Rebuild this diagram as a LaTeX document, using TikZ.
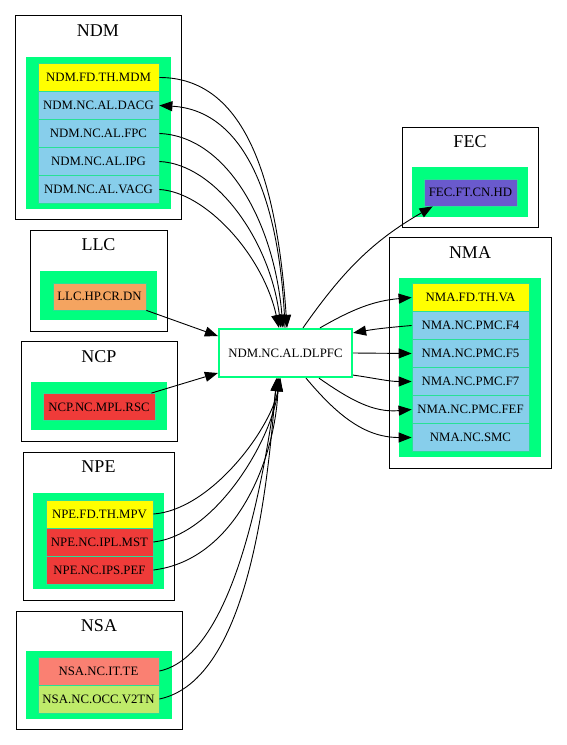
\documentclass[tikz,border=0pt]{standalone}
\usepackage{fontspec}
\setmainfont{Liberation Serif}
\usetikzlibrary{arrows.meta}
\definecolor{sgreen}{HTML}{00FF7F}
\definecolor{nborder}{RGB}{40,225,150}
\definecolor{skyb}{HTML}{87CEEB}
\definecolor{yel}{HTML}{FFFF00}
\definecolor{sandy}{HTML}{F4A460}
\definecolor{redc}{HTML}{EF3B39}
\definecolor{salm}{HTML}{FA8072}
\definecolor{olive}{HTML}{BFEB6A}
\definecolor{slate}{HTML}{6A5ACD}
\tikzset{
 clu/.style={draw=black, line width=0.9pt, fill=white},
 grn/.style={fill=sgreen, draw=none},
 item/.style={draw=nborder, line width=0.8pt, minimum height=28pt, inner sep=0pt, font=\fontsize{12.8}{14}\selectfont},
 ttl/.style={font=\fontsize{18}{20}\selectfont, inner sep=0pt},
 arr/.style={draw, line width=0.9pt, -{Triangle[length=13pt,width=10pt]}},
}
\begin{document}
\begin{tikzpicture}[x=1pt,y=1pt]
\useasboundingbox (0,0) rectangle (567,-745);
% clusters
\draw[clu] (15,-15) rectangle (181,-219);
\fill[grn] (26,-57) rectangle (171,-209);
\node[ttl] (tndm) at (98,-31) {NDM};
\draw[clu] (30,-230) rectangle (167,-331);
\fill[grn] (40,-271) rectangle (157,-320);
\node[ttl] (tllc) at (98.5,-245) {LLC};
\draw[clu] (21,-341) rectangle (177,-441);
\fill[grn] (31,-382) rectangle (167,-430);
\node[ttl] (tncp) at (99,-357) {NCP};
\draw[clu] (23,-452) rectangle (174,-600);
\fill[grn] (33,-493) rectangle (164,-589);
\node[ttl] (tnpe) at (98.5,-467) {NPE};
\draw[clu] (16,-611) rectangle (182,-729);
\fill[grn] (26,-651) rectangle (172,-719);
\node[ttl] (tnsa) at (99,-626) {NSA};
\draw[clu] (402,-127) rectangle (538,-227);
\fill[grn] (412,-167) rectangle (528,-217);
\node[ttl] (tfec) at (470,-142) {FEC};
\draw[clu] (389,-237) rectangle (551,-468);
\fill[grn] (399,-278) rectangle (541,-457);
\node[ttl] (tnma) at (470,-253) {NMA};
% NDM nodes
\node[item, fill=yel, minimum width=121pt] (mdm) at (98.5,-77.5) {NDM.FD.TH.MDM};
\node[item, fill=skyb, minimum width=121pt] (dacg) at (98.5,-105.5) {NDM.NC.AL.DACG};
\node[item, fill=skyb, minimum width=121pt] (fpc) at (98.5,-133.5) {NDM.NC.AL.FPC};
\node[item, fill=skyb, minimum width=121pt] (ipg) at (98.5,-161.5) {NDM.NC.AL.IPG};
\node[item, fill=skyb, minimum width=121pt] (vacg) at (98.5,-189.5) {NDM.NC.AL.VACG};
% LLC, NCP
\node[item, fill=sandy, minimum width=93pt, minimum height=27pt] (llc) at (99.5,-296.5) {LLC.HP.CR.DN};
\node[item, fill=redc, minimum width=112pt, minimum height=27pt] (ncp) at (99,-407) {NCP.NC.MPL.RSC};
% NPE
\node[item, fill=yel, minimum width=107pt] (mpv) at (99.5,-514) {NPE.FD.TH.MPV};
\node[item, fill=redc, minimum width=107pt] (mst) at (99.5,-542) {NPE.NC.IPL.MST};
\node[item, fill=redc, minimum width=107pt] (pef) at (99.5,-570) {NPE.NC.IPS.PEF};
% NSA
\node[item, fill=salm, minimum width=121pt] (te) at (98.5,-671) {NSA.NC.IT.TE};
\node[item, fill=olive, minimum width=121pt] (v2tn) at (98.5,-699) {NSA.NC.OCC.V2TN};
% FEC
\node[item, fill=slate, minimum width=93pt, minimum height=27pt] (fec) at (470.5,-192.5) {FEC.FT.CN.HD};
% NMA
\node[item, fill=yel, minimum width=117pt] (va) at (470.5,-297.5) {NMA.FD.TH.VA};
\node[item, fill=skyb, minimum width=117pt] (f4) at (470.5,-325.5) {NMA.NC.PMC.F4};
\node[item, fill=skyb, minimum width=117pt] (f5) at (470.5,-353.5) {NMA.NC.PMC.F5};
\node[item, fill=skyb, minimum width=117pt] (f7) at (470.5,-381.5) {NMA.NC.PMC.F7};
\node[item, fill=skyb, minimum width=117pt] (fef) at (470.5,-409.5) {NMA.NC.PMC.FEF};
\node[item, fill=skyb, minimum width=117pt] (smc) at (470.5,-437.5) {NMA.NC.SMC};
% centre
\node[draw=sgreen, line width=2.2pt, fill=white, minimum width=133pt, minimum height=48pt, inner sep=0pt, font=\fontsize{12.8}{14}\selectfont] (ctr) at (285.5,-353) {NDM.NC.AL.DLPFC};
% edges NDM
\draw[arr] (mdm.east) .. controls +(86,0) and +(-10,148) .. ([xshift=1.5pt]ctr.north);
\draw[arr] ([xshift=-0.5pt]ctr.north) .. controls +(-5,138) and +(81,-4.5) .. (dacg.east);
\draw[arr] (fpc.east) .. controls +(66,-2.5) and +(-9,108) .. ([xshift=-2.5pt]ctr.north);
\draw[arr] (ipg.east) .. controls +(56,-2.5) and +(-11,88) .. ([xshift=-4.5pt]ctr.north);
\draw[arr] (vacg.east) .. controls +(46,-2.5) and +(-16,73) .. ([xshift=-6.5pt]ctr.north);
% LLC, NCP
\draw[arr] (llc.south east) -- ([yshift=17pt]ctr.west);
\draw[arr] ([xshift=-4pt]ncp.north east) -- ([yshift=-20pt]ctr.west);
% NPE, NSA
\draw[arr] (mpv.east) .. controls +(57,4) and +(-10.5,-52) .. ([xshift=-5pt]ctr.south);
\draw[arr] (mst.east) .. controls +(62,7) and +(-7.5,-62) .. ([xshift=-6pt]ctr.south);
\draw[arr] (pef.east) .. controls +(82,10) and +(-3.5,-82) .. ([xshift=-7pt]ctr.south);
\draw[arr] (te.east) .. controls +(76,16) and +(-12.5,-92) .. ([xshift=-8pt]ctr.south);
\draw[arr] (v2tn.east) .. controls +(91,19) and +(-8.5,-102) .. ([xshift=-9pt]ctr.south);
% right side
\draw[arr] ([xshift=17.5pt]ctr.north) to[out=55,in=-150] ([xshift=9pt]fec.south west);
\draw[arr] ([xshift=34.5pt]ctr.north) to[out=30,in=185] (va.west);
\draw[arr] (f4.west) to[out=185,in=10] ([yshift=-5pt]ctr.north east);
\draw[arr] (ctr.east) -- (f5.west);
\draw[arr] ([yshift=3pt]ctr.south east) to[out=-8,in=180] (f7.west);
\draw[arr] ([xshift=33.5pt]ctr.south) to[out=-35,in=185] (fef.west);
\draw[arr] ([xshift=20.5pt]ctr.south) to[out=-50,in=180] (smc.west);
\end{tikzpicture}
\end{document}
